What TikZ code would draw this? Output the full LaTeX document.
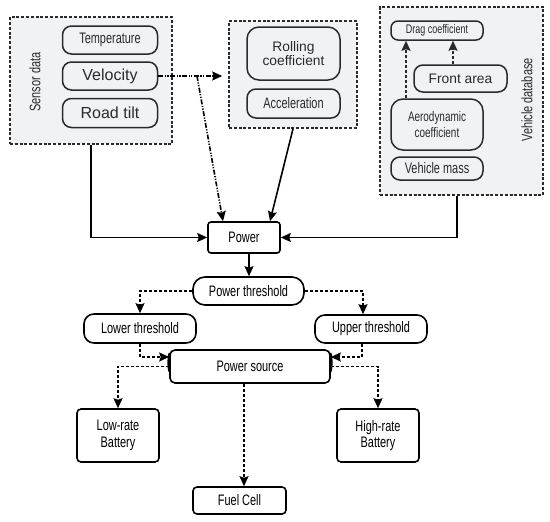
\documentclass[tikz,border=0pt]{standalone}
\usepackage{fontspec}
\setmainfont{Liberation Sans}
\newfontfamily\cond{Liberation Sans}[FakeStretch=0.72]
\usetikzlibrary{arrows.meta}
\definecolor{boxfill}{HTML}{F1F2F4}
\definecolor{ink}{HTML}{2A2A2A}
\tikzset{
  grp/.style={draw=ink, line width=1.6pt, dash pattern=on 3pt off 1.8pt, fill=boxfill},
  inner/.style={draw=ink, line width=1.5pt, rounded corners=9pt, inner sep=0pt, align=center, text=ink},
  flow/.style={draw=black, line width=1.6pt, inner sep=0pt, align=center},
  reg/.style={font=\fontsize{16}{17}\selectfont},
  regs/.style={font=\fontsize{13.8}{15}\selectfont},
  cnd/.style={font=\cond\fontsize{15.2}{16.5}\selectfont},
  arr/.style={line width=1.6pt, -{Stealth[length=10pt,width=9pt,inset=1.5pt]}},
  dsh/.style={arr, dash pattern=on 3pt off 2pt},
  ddot/.style={arr, dash pattern=on 5pt off 1.5pt on 1.2pt off 1.5pt on 1.2pt off 1.5pt},
}
\begin{document}
\begin{tikzpicture}[x=1pt,y=-1pt]
\useasboundingbox (0,0) rectangle (550,522);
% group boxes
\node[grp, minimum width=162pt, minimum height=127pt, inner sep=0pt] (sensorbox) at (91,80.5) {};
\node[grp, minimum width=128pt, minimum height=107pt, inner sep=0pt] (rollbox) at (293,74.5) {};
\node[grp, minimum width=163pt, minimum height=188pt, inner sep=0pt] (vehbox) at (461.5,101) {};
\node[rotate=90, cnd, text=ink] (sensorlab) at (35,82) {Sensor data};
\node[rotate=90, cnd, text=ink] (vehlab) at (527,100) {Vehicle database};
% sensor nodes
\node[inner, cnd, minimum width=95pt, minimum height=28pt] (temp) at (110,40) {Temperature};
\node[inner, reg, minimum width=95pt, minimum height=28pt] (vel) at (110,76) {Velocity};
\node[inner, reg, minimum width=95pt, minimum height=29pt] (road) at (110,113) {Road tilt};
% rolling
\node[inner, regs, minimum width=93pt, minimum height=53pt, rounded corners=12pt] (roll) at (293.5,53.5) {Rolling\\[-1pt]coefficient};
\node[inner, cnd, minimum width=93pt, minimum height=29pt] (acc) at (293.5,103.5) {Acceleration};
% vehicle
\node[inner, font=\cond\fontsize{12.5}{13}\selectfont, minimum width=92pt, minimum height=19pt, rounded corners=7pt] (drag) at (437,30.5) {Drag coefficient};
\node[inner, regs, minimum width=93pt, minimum height=27pt] (front) at (460.5,78.5) {Front area};
\node[inner, font=\cond\fontsize{13.8}{16.5}\selectfont, minimum width=92pt, minimum height=51pt, rounded corners=12pt] (aero) at (437,124.5) {Aerodynamic\\coefficient};
\node[inner, cnd, minimum width=92pt, minimum height=23pt] (mass) at (437,168.5) {Vehicle mass};
% flow nodes
\node[flow, cnd, minimum width=72pt, minimum height=31pt, rounded corners=3pt] (power) at (244,237.5) {Power};
\node[flow, cnd, minimum width=111pt, minimum height=28pt, rounded corners=12pt] (pthr) at (248.5,291) {Power threshold};
\node[flow, cnd, minimum width=112pt, minimum height=29pt, rounded corners=10pt] (lower) at (140,328.5) {Lower threshold};
\node[flow, cnd, minimum width=112pt, minimum height=28pt, rounded corners=10pt] (upper) at (371,329) {Upper threshold};
\node[flow, cnd, minimum width=160pt, minimum height=33pt, rounded corners=5pt] (psrc) at (250,366.5) {Power source};
\node[flow, cnd, minimum width=82pt, minimum height=53pt, rounded corners=4pt] (low) at (118,435.5) {Low-rate\\Battery};
\node[flow, cnd, minimum width=82pt, minimum height=53pt, rounded corners=4pt] (high) at (378,435.5) {High-rate\\Battery};
\node[flow, cnd, minimum width=93pt, minimum height=27pt, rounded corners=4pt] (fuel) at (239.5,500.5) {Fuel Cell};
\fill ([yshift=4pt]psrc.west) ellipse (1.8 and 10);
\fill ([yshift=4pt]psrc.east) ellipse (1.8 and 10);
% connectors
\coordinate (vj) at (197,76);
\draw[ddot, shorten >=6pt] (vel.east) -- (vel.east -| rollbox.west);
\draw[ddot] (vj) -- ([xshift=-21pt]power.north);
\draw[arr] (rollbox.south) -- ([xshift=26pt]power.north);
\draw[arr] (sensorbox.south) |- (power.west);
\draw[arr] ([xshift=-4.5pt]vehbox.south) |- (power.east);
\draw[dsh, draw=ink] ([xshift=-31pt]aero.north) -- ([xshift=-31pt]aero.north |- drag.south);
\draw[dsh, draw=ink] ([xshift=-7.5pt]front.north) -- ([xshift=-7.5pt]front.north |- drag.south);
\draw[arr] ([xshift=5pt]power.south) -- ([xshift=5pt]power.south |- pthr.north);
\draw[dsh] (pthr.west) -| (lower.north);
\draw[dsh] (pthr.east) -| ([xshift=-8pt]upper.north);
\draw[dsh] (lower.south) |- ([yshift=9.5pt]psrc.west);
\draw[dsh] ([xshift=-9pt]upper.south) |- ([yshift=9.5pt]psrc.east);
\draw[dsh] (psrc.west) -| (low.north);
\draw[dsh] (psrc.east) -| (high.north);
\draw[dsh] ([xshift=-6pt]psrc.south) -- ([xshift=-6pt]psrc.south |- fuel.north);
\end{tikzpicture}
\end{document}
